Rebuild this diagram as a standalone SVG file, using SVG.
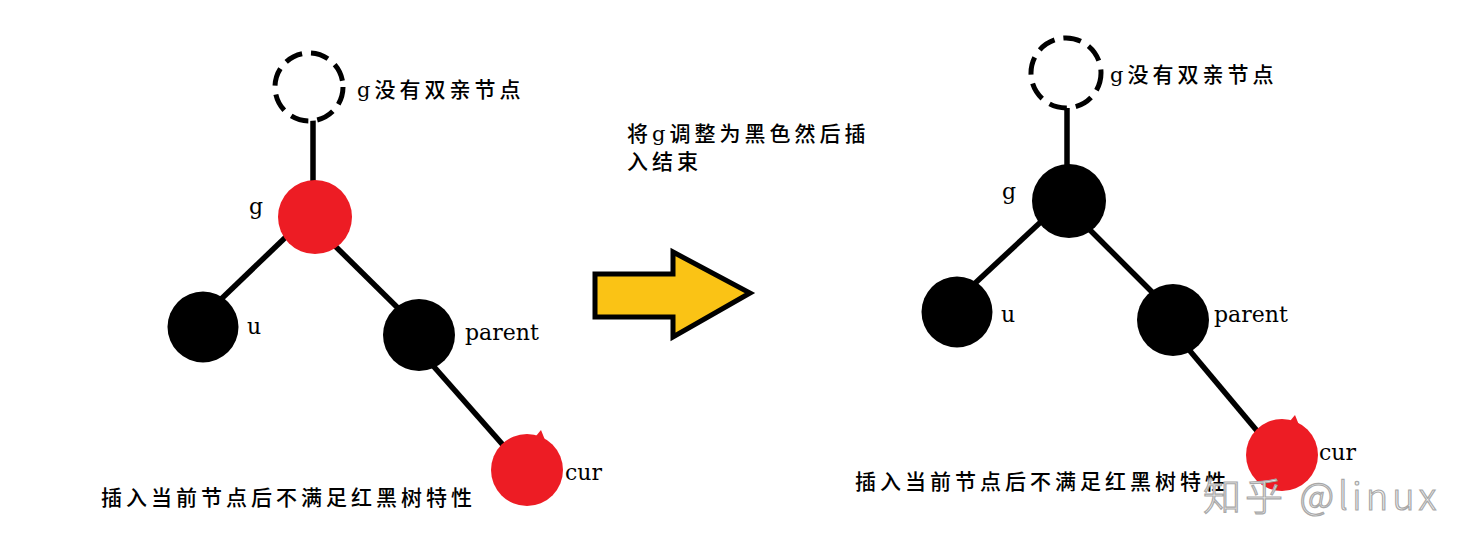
<svg xmlns="http://www.w3.org/2000/svg" width="1483" height="547" viewBox="0 0 1483 547">
<style>
.bg{fill:#ffffff}
.edge{stroke:#000;stroke-width:5.5;stroke-linecap:butt;fill:none}
.dash{fill:#fff;stroke:#000;stroke-width:5;stroke-dasharray:18 9}
.red{fill:#ED1C24}
.black{fill:#000}
.lbl{font-family:"DejaVu Serif","Liberation Serif",serif;font-size:22px;fill:#000}
.cn{font-family:"DejaVu Serif","Noto Sans CJK SC",sans-serif;font-size:21px;font-weight:500;letter-spacing:4px;fill:#000}
.wm{font-family:"Noto Sans CJK SC","Noto Sans",sans-serif;font-size:38px;font-weight:300;letter-spacing:4px;fill:#f6f6f6;stroke:#a8a8a8;stroke-width:1.2}
</style>
<rect class="bg" x="0" y="0" width="1483" height="547"/>

<g id="connectors">
  <line class="edge" x1="313" y1="120" x2="313" y2="185"/>
  <line class="edge" x1="290" y1="233" x2="216" y2="304"/>
  <line class="edge" x1="330" y1="241" x2="404" y2="314"/>
  <line class="edge" x1="428" y1="360" x2="510" y2="453"/>
  <line class="edge" x1="1067" y1="108" x2="1067" y2="170"/>
  <line class="edge" x1="1045" y1="218" x2="971" y2="287"/>
  <line class="edge" x1="1085" y1="225" x2="1157" y2="297"/>
  <line class="edge" x1="1185" y1="345" x2="1263" y2="438"/>
</g>

<g id="left-null">
  <circle class="dash" cx="309" cy="87" r="34"/>
  <text class="cn" x="357" y="97">g没有双亲节点</text>
</g>
<g id="left-g">
  <circle class="red" cx="315" cy="217" r="37"/>
  <text class="lbl" x="249" y="214">g</text>
</g>
<g id="left-u">
  <circle class="black" cx="203" cy="327" r="35.5"/>
  <text class="lbl" x="247" y="334">u</text>
</g>
<g id="left-parent">
  <circle class="black" cx="419" cy="335" r="36"/>
  <text class="lbl" x="465" y="340">parent</text>
</g>
<g id="left-cur">
  <circle class="red" cx="527" cy="470" r="36"/>
  <path class="red" d="M536,436 L541,430 L545,440 Z"/>
  <text class="lbl" x="565" y="480">cur</text>
</g>
<g id="left-caption">
  <text class="cn" x="101" y="505">插入当前节点后不满足红黑树特性</text>
</g>

<g id="middle-note">
  <text class="cn" x="627" y="141">将g调整为黑色然后插</text>
  <text class="cn" x="627" y="169">入结束</text>
</g>
<g id="arrow">
  <polygon points="595,274 673,274 673,252 750,293 673,337 673,317 595,317" fill="#FAC315" stroke="#000" stroke-width="5" stroke-linejoin="miter"/>
</g>

<g id="right-null">
  <circle class="dash" cx="1066" cy="73" r="35"/>
  <text class="cn" x="1110" y="82">g没有双亲节点</text>
</g>
<g id="right-g">
  <circle class="black" cx="1069" cy="201" r="37"/>
  <text class="lbl" x="1002" y="199">g</text>
</g>
<g id="right-u">
  <circle class="black" cx="957" cy="312" r="35.5"/>
  <text class="lbl" x="1001" y="322">u</text>
</g>
<g id="right-parent">
  <circle class="black" cx="1173" cy="320" r="36"/>
  <text class="lbl" x="1214" y="322">parent</text>
</g>
<g id="right-cur">
  <circle class="red" cx="1282" cy="455" r="36"/>
  <path class="red" d="M1290,421 L1295,415 L1299,425 Z"/>
  <text class="lbl" x="1319" y="460">cur</text>
</g>
<g id="right-caption">
  <text class="cn" x="855" y="489">插入当前节点后不满足红黑树特性</text>
</g>

<g id="watermark">
  <text class="wm" x="1203" y="510">知乎 @linux</text>
</g>
</svg>
